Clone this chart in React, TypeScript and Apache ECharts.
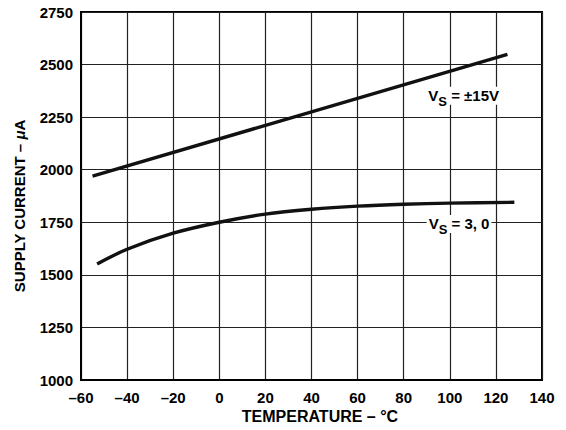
import React, { useEffect, useRef } from "react";
import * as echarts from "echarts";

const xTicks = { min: -60, max: 140, interval: 20 };
const yTicks = { min: 1000, max: 2750, interval: 250 };

const vs15Temp = [-55, 125];
const vs15Current = [1970, 2548];

const vs3Temp = [-53, -40, -20, 0, 20, 40, 60, 80, 100, 128];
const vs3Current = [1552, 1622, 1698, 1750, 1789, 1812, 1827, 1836, 1841, 1845];

const labels = [
  { name: "vs15", text: "±15V", x: 106, y: 2352 },
  { name: "vs3", text: "3, 0", x: 104, y: 1742 },
];

const xTitle = "TEMPERATURE – °C";
const yTitleParts = ["SUPPLY CURRENT – ", "μ", "A"];

const FONT = "Liberation Sans";

export default function App() {
  const ref = useRef<HTMLDivElement>(null);
  useEffect(() => {
    if (!ref.current) return;
    const chart = echarts.init(ref.current, undefined, { renderer: "svg" });
    const rich = {
      v: { fontFamily: FONT, fontWeight: "bold", fontSize: 15, color: "#000", verticalAlign: "top", lineHeight: 16 },
      s: { fontFamily: FONT, fontWeight: "bold", fontSize: 13, color: "#000", padding: [7, 0, 0, 0], verticalAlign: "top", lineHeight: 16 },
      t: { fontFamily: FONT, fontWeight: "bold", fontSize: 15, color: "#000", verticalAlign: "top", lineHeight: 16 },
    };
    const label = (text: string) => ({
      show: true,
      position: "inside",
      backgroundColor: "#fff",
      padding: [1, 2, 1, 2],
      formatter: () => `{v|V}{s|S}{t| = ${text}}`,
      rich,
    });
    chart.setOption({
      animation: false,
      textStyle: { fontFamily: FONT, fontWeight: "bold" },
      grid: { left: 81, top: 12, right: 24, bottom: 50, show: true, borderColor: "#000", borderWidth: 2, backgroundColor: "transparent" },
      graphic: [
        {
          type: "text",
          x: 320,
          y: 416,
          style: {
            text: xTitle,
            fontFamily: FONT,
            fontWeight: "bold",
            fontSize: 16,
            fill: "#000",
            align: "center",
            verticalAlign: "middle",
          },
        },
        {
          type: "text",
          x: 19.5,
          y: 206,
          rotation: Math.PI / 2,
          style: {
            text: `{a|${yTitleParts[0]}}{m|${yTitleParts[1]}}{a|${yTitleParts[2]}}`,
            fontFamily: FONT,
            fontWeight: "bold",
            fontSize: 15,
            fill: "#000",
            align: "center",
            verticalAlign: "middle",
            rich: {
              a: { fontFamily: FONT, fontWeight: "bold", fontSize: 15, fill: "#000" },
              m: { fontFamily: FONT, fontWeight: "bold", fontStyle: "italic", fontSize: 15, fill: "#000" },
            },
          },
        },
      ],
      xAxis: {
        type: "value",
        min: xTicks.min,
        max: xTicks.max,
        interval: xTicks.interval,
        axisLine: { show: true, onZero: false, lineStyle: { color: "#000", width: 2 } },
        axisTick: { show: false },
        axisLabel: {
          fontFamily: FONT, fontWeight: "bold", fontSize: 15, color: "#000", margin: 10,
          formatter: (v: number) => String(v).replace("-", "–"),
        },
        splitLine: { show: true, lineStyle: { color: "#222", width: 1.2 } },
      },
      yAxis: {
        type: "value",
        min: yTicks.min,
        max: yTicks.max,
        interval: yTicks.interval,
        axisLine: { show: true, onZero: false, lineStyle: { color: "#000", width: 2 } },
        axisTick: { show: false },
        axisLabel: {
          fontFamily: FONT, fontWeight: "bold", fontSize: 15, color: "#000", margin: 8,
          formatter: (v: number) => String(v),
        },
        splitLine: { show: true, lineStyle: { color: "#222", width: 1.2 } },
      },
      series: [
        {
          type: "line",
          data: vs15Temp.map((t, i) => [t, vs15Current[i]]),
          symbol: "none",
          lineStyle: { color: "#111", width: 3.4 },
          z: 3,
          markPoint: {
            symbol: "circle",
            symbolSize: 0,
            label: label(labels[0].text),
            data: [{ coord: [labels[0].x, labels[0].y] }],
          },
        },
        {
          type: "line",
          data: vs3Temp.map((t, i) => [t, vs3Current[i]]),
          symbol: "none",
          smooth: 0.3,
          lineStyle: { color: "#111", width: 3.4 },
          z: 3,
          markPoint: {
            symbol: "circle",
            symbolSize: 0,
            label: label(labels[1].text),
            data: [{ coord: [labels[1].x, labels[1].y] }],
          },
        },
      ],
    });
    return () => chart.dispose();
  }, []);
  return <div ref={ref} style={{ width: 566, height: 430, position: "absolute", left: 0, top: 0 }} />;
}
